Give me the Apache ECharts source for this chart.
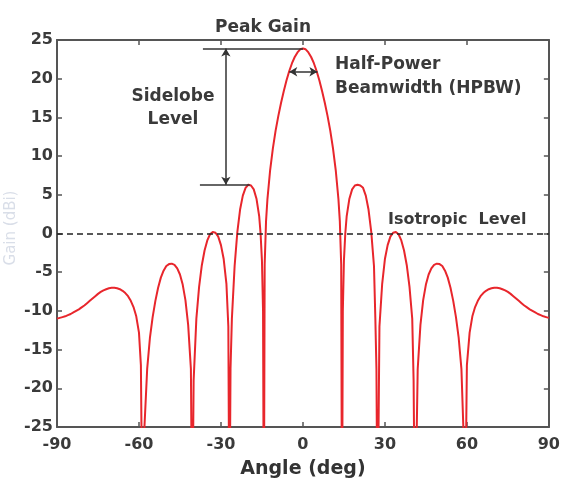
<!DOCTYPE html>
<html>
<head>
<meta charset="utf-8">
<script src="https://cdn.jsdelivr.net/npm/echarts@6/dist/echarts.min.js"></script>
<style>
html,body{margin:0;padding:0;background:#fff;}
#chart{width:563px;height:486px;}
</style>
</head>
<body>
<div id="chart"></div>
<script>
// Angle (deg) samples
const angles = [
-90,-89,-88,-87,-86,-85,-84,-83,-82,-81,-80,-79,-78,-77,-76,-75,-74,-73,-72,-71,-70,-69,-68,-67,-66,-65,-64,-63,-62,-61,-60,
-59.3,-58.7,
-58,-57,-56,-55,-54,-53,-52,-51,-50,-49,-48,-47,-46,-45,-44,-43,-42,-41,
-40.5,
-40,-39,-38,-37,-36,-35,-34,-33,-32,-31,-30,-29,-28,
-27.3,-26.9,-26.5,
-26,-25,-24,-23,-22,-21,-20,-19,-18,-17,-16,-15.5,-15,
-14.6,-14.3,-14,-13.5,
-13,-12,-11,-10,-9,-8,-7,-6,-5,-4,-3,-2,-1,
0,
1,2,3,4,5,6,7,8,9,10,11,12,13,
13.5,14,14.3,14.6,
15,15.5,16,17,18,19,20,21,22,23,24,25,26,
26.5,26.9,27.3,
28,29,30,31,32,33,34,35,36,37,38,39,40,
40.5,
41,42,43,44,45,46,47,48,49,50,51,52,53,54,55,56,57,58,
58.7,59.3,
60,61,62,63,64,65,66,67,68,69,70,71,72,73,74,75,76,77,78,79,80,81,82,83,84,85,86,87,88,89,90
];
// Gain (dB) at each angle
const gains = [
-11.0,-10.9,-10.8,-10.7,-10.55,-10.4,-10.2,-10.0,-9.8,-9.55,-9.3,-9.0,-8.7,-8.4,-8.1,-7.8,-7.55,-7.35,-7.2,-7.08,-7.02,-7.02,-7.08,-7.2,-7.4,-7.7,-8.1,-8.7,-9.5,-10.7,-12.8,
-17,-40,
-25,-17.5,-13.5,-10.8,-8.7,-7.0,-5.7,-4.8,-4.2,-3.95,-3.9,-4.05,-4.5,-5.3,-6.6,-8.6,-11.8,-17.5,
-40,
-19,-11,-6.9,-4.1,-2.2,-0.9,-0.1,0.2,0.1,-0.4,-1.5,-3.3,-6.5,
-12,-40,-17.5,
-11,-4.2,0.2,3.1,4.9,5.9,6.3,6.2,5.7,4.5,2.2,0.0,-3.5,
-10,-40,-4,1.6,
4.4,8.2,11.0,13.3,15.2,16.9,18.4,19.8,21.0,22.0,22.8,23.4,23.8,
23.9,
23.8,23.4,22.8,22.0,21.0,19.8,18.4,16.9,15.2,13.3,11.0,8.2,4.4,
1.6,-4,-40,-10,
-3.5,0.0,2.2,4.5,5.7,6.2,6.3,6.2,5.9,4.9,3.1,0.2,-4.2,-11,
-17.5,-40,-12,
-6.5,-3.3,-1.5,-0.4,0.1,0.2,-0.1,-0.9,-2.2,-4.1,-6.9,-11,-19,
-40,
-17.5,-11.8,-8.6,-6.6,-5.3,-4.5,-4.05,-3.9,-3.95,-4.2,-4.8,-5.7,-7.0,-8.7,-10.8,-13.5,-17.5,-25,
-40,-17,
-12.8,-10.7,-9.5,-8.7,-8.1,-7.7,-7.4,-7.2,-7.08,-7.02,-7.02,-7.08,-7.2,-7.35,-7.55,-7.8,-8.1,-8.4,-8.7,-9.0,-9.3,-9.55,-9.8,-10.0,-10.2,-10.4,-10.55,-10.7,-10.8,-10.9,-11.0
];
const xTicks = [-90, -60, -30, 0, 30, 60, 90];
const yTicks = [-25, -20, -15, -10, -5, 0, 5, 10, 15, 20, 25];

// annotation anchor values (data units)
const peakGain = 23.9;
const sidelobeLevel = 6.3;
const sidelobeAngle = -19.5;
const arrowAngle = -28.2;
const peakLineStart = -36.6;
const sideLineStart = -37.7;
const hpbwLevel = 20.9;
const hpbwLeft = -5;
const hpbwRight = 5.3;

const FONT = 'DejaVu Sans';
const AX = '#555';
const TXT = '#3a3a3a';

const chart = echarts.init(document.getElementById('chart'));
const axisCommon = {
  type: 'value',
  splitLine: {show: false},
  axisLine: {show: true, onZero: false, lineStyle: {color: AX, width: 2}},
  axisTick: {show: true, inside: true, length: 5, lineStyle: {color: AX, width: 1.5}}
};
chart.setOption({
  animation: false,
  backgroundColor: '#fff',
  grid: {left: 57, right: 14, top: 40, bottom: 59, containLabel: false},
  xAxis: [
    Object.assign({}, axisCommon, {
      position: 'bottom', min: xTicks[0], max: xTicks[xTicks.length - 1], interval: 30,
      axisLabel: {color: TXT, fontFamily: FONT, fontWeight: 'bold', fontSize: 16, margin: 10},
      name: 'Angle (deg)', nameLocation: 'middle', nameGap: 33,
      nameTextStyle: {color: '#333', fontFamily: FONT, fontWeight: 'bold', fontSize: 19}
    }),
    Object.assign({}, axisCommon, {
      position: 'top', min: xTicks[0], max: xTicks[xTicks.length - 1], interval: 30,
      axisLabel: {show: false}
    })
  ],
  yAxis: [
    Object.assign({}, axisCommon, {
      position: 'left', min: yTicks[0], max: yTicks[yTicks.length - 1], interval: 5,
      axisLabel: {color: TXT, fontFamily: FONT, fontWeight: 'bold', fontSize: 16, margin: 4}
    }),
    Object.assign({}, axisCommon, {
      position: 'right', min: yTicks[0], max: yTicks[yTicks.length - 1], interval: 5,
      axisLabel: {show: false}
    })
  ],
  graphic: [
    {type: 'text', x: 11, y: 228, rotation: Math.PI / 2,
      style: {text: 'Gain (dBi)', fill: '#d9dee8', font: '15px "DejaVu Sans"', align: 'center', verticalAlign: 'middle'}},
    {type: 'text', x: 263, y: 28, style: {text: 'Peak Gain', fill: TXT, font: 'bold 17px "DejaVu Sans"', align: 'center', verticalAlign: 'middle'}},
    {type: 'text', x: 173, y: 97, style: {text: 'Sidelobe', fill: TXT, font: 'bold 17px "DejaVu Sans"', align: 'center', verticalAlign: 'middle'}},
    {type: 'text', x: 173, y: 120, style: {text: 'Level', fill: TXT, font: 'bold 17px "DejaVu Sans"', align: 'center', verticalAlign: 'middle'}},
    {type: 'text', x: 335, y: 65, style: {text: 'Half-Power', fill: TXT, font: 'bold 17px "DejaVu Sans"', align: 'left', verticalAlign: 'middle'}},
    {type: 'text', x: 335, y: 89, style: {text: 'Beamwidth (HPBW)', fill: TXT, font: 'bold 17px "DejaVu Sans"', align: 'left', verticalAlign: 'middle'}},
    {type: 'text', x: 388, y: 220, style: {text: 'Isotropic  Level', fill: TXT, font: 'bold 16px "DejaVu Sans"', align: 'left', verticalAlign: 'middle'}}
  ],
  series: [
    {
      type: 'line', xAxisIndex: 0, yAxisIndex: 0,
      data: [], symbol: 'none', silent: true, z: 1,
      markLine: {
        silent: true, symbol: 'none', animation: false,
        label: {show: false},
        lineStyle: {color: '#222', width: 1.5, type: [6, 4]},
        data: [{yAxis: 0}]
      }
    },
    {
      type: 'line', xAxisIndex: 0, yAxisIndex: 0,
      data: angles.map((a, i) => [a, gains[i]]),
      symbol: 'none', smooth: false, clip: true, z: 3,
      lineStyle: {color: '#e8262c', width: 2, join: 'round'},
      silent: true
    },
    {
      type: 'line', xAxisIndex: 0, yAxisIndex: 0,
      data: [], symbol: 'none', silent: true, z: 4,
      markLine: {
        silent: true, symbol: 'none', animation: false,
        label: {show: false},
        lineStyle: {color: '#333', width: 1.5, type: 'solid'},
        data: [
          [{coord: [peakLineStart, peakGain]}, {coord: [0, peakGain]}],
          [{coord: [sideLineStart, sidelobeLevel]}, {coord: [sidelobeAngle, sidelobeLevel]}]
        ]
      }
    },
    {
      type: 'line', xAxisIndex: 0, yAxisIndex: 0,
      data: [], symbol: 'none', silent: true, z: 4,
      markLine: {
        silent: true, symbol: ['arrow', 'arrow'], symbolSize: [7, 8], animation: false,
        label: {show: false},
        lineStyle: {color: '#333', width: 1.5, type: 'solid'},
        data: [
          [{coord: [arrowAngle, peakGain]}, {coord: [arrowAngle, sidelobeLevel]}],
          [{coord: [hpbwLeft, hpbwLevel]}, {coord: [hpbwRight, hpbwLevel]}]
        ]
      }
    }
  ]
});
</script>
</body>
</html>
